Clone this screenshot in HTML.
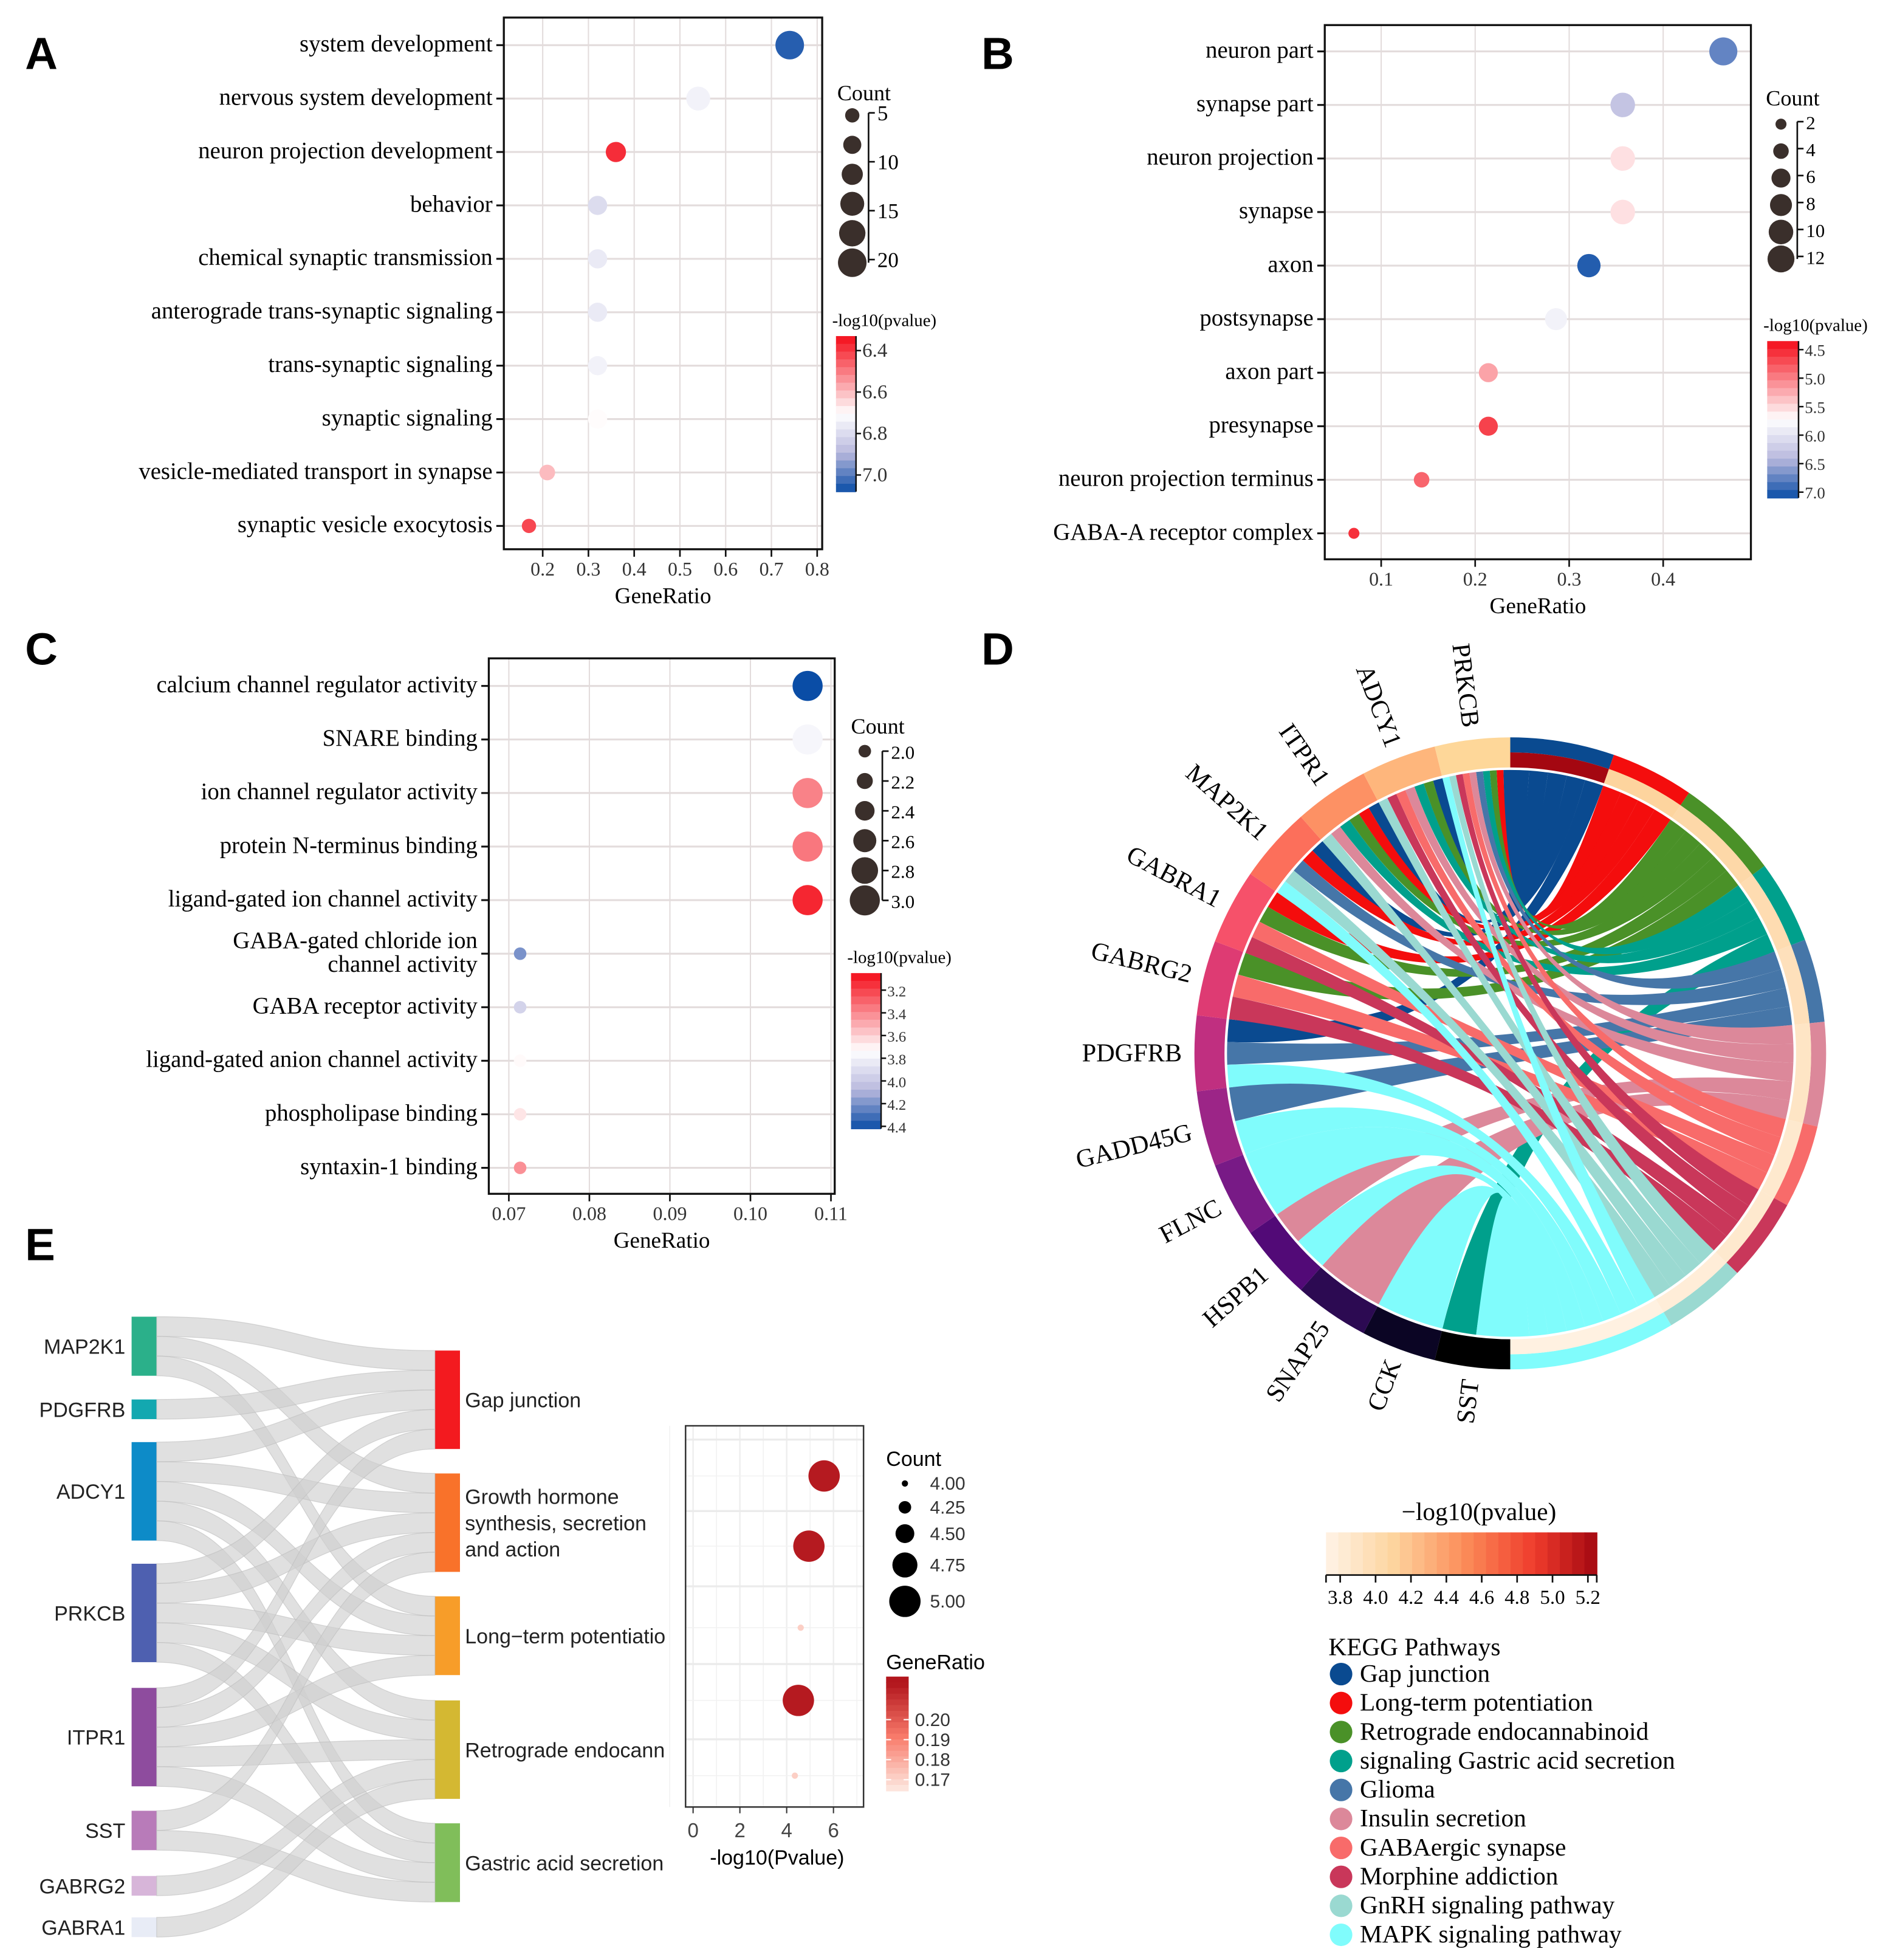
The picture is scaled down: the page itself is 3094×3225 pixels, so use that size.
<!DOCTYPE html>
<html><head><meta charset="utf-8"><style>
html,body{margin:0;padding:0;background:#fff;}
svg{display:block;}
.serif{font-family:"Liberation Serif",serif;}
.sans{font-family:"Liberation Sans",sans-serif;}
</style></head><body>
<svg id="fig" xmlns="http://www.w3.org/2000/svg" width="3094" height="3225" viewBox="0 0 1500 1563" preserveAspectRatio="none">
<g class="sans" font-weight="bold" font-size="36">
<text x="20" y="55">A</text>
<text x="783" y="55">B</text>
<text x="20" y="530">C</text>
<text x="783" y="530">D</text>
<text x="20" y="1005">E</text>
</g>
</svg>
<script>
// ---------- Panel A data ----------
const aTerms=["system development","nervous system development","neuron projection development","behavior","chemical synaptic transmission","anterograde trans-synaptic signaling","trans-synaptic signaling","synaptic signaling","vesicle-mediated transport in synapse","synaptic vesicle exocytosis"];
const aRatio=[0.74,0.54,0.36,0.32,0.32,0.32,0.32,0.32,0.21,0.17];
const aCount=[20,14,10,9,9,9,9,9,6,5];
const aLogP=[7.05,6.74,6.38,6.8,6.76,6.76,6.74,6.7,6.6,6.42];
const aXTicks=[0.2,0.3,0.4,0.5,0.6,0.7,0.8];
const aCountLegend=[5,10,15,20];
const aColorTicks=[6.4,6.6,6.8,7.0];
// ---------- Panel B data ----------
const bTerms=["neuron part","synapse part","neuron projection","synapse","axon","postsynapse","axon part","presynapse","neuron projection terminus","GABA-A receptor complex"];
const bRatio=[0.464,0.357,0.357,0.357,0.321,0.286,0.214,0.214,0.143,0.071];
const bCount=[13,10,10,10,9,8,6,6,4,2];
const bLogP=[6.75,6.3,5.55,5.55,7.0,5.85,5.2,4.65,4.85,4.55];
const bXTicks=[0.1,0.2,0.3,0.4];
const bCountLegend=[2,4,6,8,10,12];
const bColorTicks=[4.5,5.0,5.5,6.0,6.5,7.0];
// ---------- Panel C data ----------
const cTerms=["calcium channel regulator activity","SNARE binding","ion channel regulator activity","protein N-terminus binding","ligand-gated ion channel activity","GABA-gated chloride ion|channel activity","GABA receptor activity","ligand-gated anion channel activity","phospholipase binding","syntaxin-1 binding"];
const cRatio=[0.1071,0.1071,0.1071,0.1071,0.1071,0.0714,0.0714,0.0714,0.0714,0.0714];
const cCount=[3,3,3,3,3,2,2,2,2,2];
const cLogP=[4.42,3.78,3.38,3.35,3.12,4.2,3.95,3.72,3.66,3.42];
const cXTicks=[0.07,0.08,0.09,0.10,0.11];
const cCountLegend=[2.0,2.2,2.4,2.6,2.8,3.0];
const cColorTicks=[3.2,3.4,3.6,3.8,4.0,4.2,4.4];
// ---------- Panel D data ----------
const dGenes=["SST","CCK","SNAP25","HSPB1","FLNC","GADD45G","PDGFRB","GABRG2","GABRA1","MAP2K1","ITPR1","ADCY1","PRKCB"];
const dGeneColors=["#000000","#0b0524","#2c0a52","#520a77","#781a86","#9c2587","#c02f80","#de3b73","#f6516a","#fc6f5b","#fd9164","#feb67c","#fed799"];
const dPathways=["Gap junction","Long-term potentiation","Retrograde endocannabinoid","signaling Gastric acid secretion","Glioma","Insulin secretion","GABAergic synapse","Morphine addiction","GnRH signaling pathway","MAPK signaling pathway"];
const dPathColors=["#0a4a90","#f40d0d","#4a9128","#00a08c","#4676a8","#dc889a","#f86b6a","#c9375a","#9ad9d1","#80fcfc"];
const dPathLogP=[5.25,4.1,4.05,4.0,3.95,3.9,3.85,3.85,3.8,3.75];
const dLinks=[
 ["PRKCB",0],["ADCY1",0],["ITPR1",0],["MAP2K1",0],["PDGFRB",0],
 ["PRKCB",1],["ITPR1",1],["MAP2K1",1],["GABRA1",1],
 ["PRKCB",2],["ADCY1",2],["ITPR1",2],["GABRA1",2],["GABRG2",2],
 ["PRKCB",3],["ADCY1",3],["ITPR1",3],["SST",3],
 ["PRKCB",4],["MAP2K1",4],["PDGFRB",4],["GADD45G",4],
 ["PRKCB",5],["ADCY1",5],["ITPR1",5],["HSPB1",5],["SNAP25",5],
 ["PRKCB",6],["ADCY1",6],["GABRA1",6],["GABRG2",6],
 ["PRKCB",7],["ADCY1",7],["GABRA1",7],["GABRG2",7],
 ["PRKCB",8],["ADCY1",8],["ITPR1",8],["MAP2K1",8],
 ["PRKCB",9],["MAP2K1",9],["PDGFRB",9],["GADD45G",9],["FLNC",9],["HSPB1",9],["CCK",9],["SST",9]
];
const dColorTicks=[3.8,4.0,4.2,4.4,4.6,4.8,5.0,5.2];
// ---------- Panel E data ----------
const eGenes=["MAP2K1","PDGFRB","ADCY1","PRKCB","ITPR1","SST","GABRG2","GABRA1"];
const eGeneColors=["#2bb08a","#13a8b0","#0d8bc8","#4e60b0","#8e4c9e","#b87bb9","#d7b5d9","#e8ecf6"];
const ePathways=["Gap junction","Growth hormone|synthesis, secretion|and action","Long−term potentiatio","Retrograde endocann","Gastric acid secretion"];
const ePathColors=["#f31a1f","#f9722a","#f79d29","#d4b832","#80be5a"];
const eLinks=[[0,0],[0,1],[0,2],[1,0],[2,0],[2,1],[2,2],[2,3],[2,4],[3,0],[3,1],[3,2],[3,3],[3,4],[4,0],[4,1],[4,2],[4,3],[4,4],[5,1],[5,4],[6,3],[7,3]];
const eLogP=[5.6,4.95,4.6,4.5,4.35];
const eCount=[5,5,4,5,4];
const eRatio=[0.217,0.217,0.171,0.217,0.171];
const eXTicks=[0,2,4,6];
const eCountLegend=[4.00,4.25,4.50,4.75,5.00];
const eRatioTicks=[0.20,0.19,0.18,0.17];

const NS="http://www.w3.org/2000/svg";
const fig=document.getElementById('fig');
function mk(tag,attrs,parent,txt){const e=document.createElementNS(NS,tag);for(const k in attrs)e.setAttribute(k,attrs[k]);if(txt!==undefined)e.textContent=txt;(parent||fig).appendChild(e);return e;}
function grp(name,cls){const g=mk('g',cls?{class:cls}:{});


return g;}
function lerp(a,b,t){return a+(b-a)*t;}
function hex(c){return [parseInt(c.slice(1,3),16),parseInt(c.slice(3,5),16),parseInt(c.slice(5,7),16)];}
function mix(c1,c2,t){const a=hex(c1),b=hex(c2);return 'rgb('+a.map((v,i)=>Math.round(lerp(v,b[i],t))).join(',')+')';}
function divColor(v,lo,hi){
 let t=(v-lo)/(hi-lo);t=Math.max(0,Math.min(1,t));
 if(t<0.5)return mix('#f40d1a','#ffffff',t/0.5);
 if(t<0.75)return mix('#ffffff','#b9b9de',(t-0.5)/0.25);
 return mix('#b9b9de','#0a4da6',(t-0.75)/0.25);}

function dotPlot(o){
 const g=grp(o.name,'serif');
 const xs=v=>o.x0+(v-o.v0)/(o.v1-o.v0)*(o.x1-o.x0);
 const ys=i=>o.y0+i*o.dy;
 o.xTicks.forEach(t=>{const l=mk('line',{x1:xs(t),x2:xs(t),y1:o.box[1],y2:o.box[3],stroke:'#e3dcdc','stroke-width':1},g);
 
 });
 o.terms.forEach((t,i)=>{const l=mk('line',{x1:o.box[0],x2:o.box[2],y1:ys(i),y2:ys(i),stroke:'#e3dcdc','stroke-width':1.5},g);
 
 });
 const bx=mk('rect',{x:o.box[0],y:o.box[1],width:o.box[2]-o.box[0],height:o.box[3]-o.box[1],fill:'none',stroke:'#111','stroke-width':1.6},g);
 
 
 o.terms.forEach((t,i)=>{
  mk('line',{x1:o.box[0]-6,x2:o.box[0],y1:ys(i),y2:ys(i),stroke:'#111','stroke-width':1.5},g);
  const parts=t.split('|');
  parts.forEach((p,k)=>{const tx=mk('text',{x:o.box[0]-9,y:ys(i)+5+(k-(parts.length-1)/2)*19,'text-anchor':'end','font-size':18.8},g,p);
  
  });
 });
 o.xTicks.forEach(t=>{mk('line',{x1:xs(t),x2:xs(t),y1:o.box[3],y2:o.box[3]+6,stroke:'#111','stroke-width':1.3},g);
  const tx=mk('text',{x:xs(t),y:o.box[3]+21,'text-anchor':'middle','font-size':15.5,fill:'#333'},g,o.fmt(t));
  
  });
 const xt=mk('text',{x:(o.box[0]+o.box[2])/2,y:o.box[3]+43,'text-anchor':'middle','font-size':18},g,'GeneRatio');
 
 
 o.terms.forEach((t,i)=>{const c=mk('circle',{cx:xs(o.ratio[i]),cy:ys(i),r:o.rad(o.count[i]),fill:divColor(o.logp[i],o.cLo,o.cHi)},g);
 
 });
 const lg=grp(o.name+'-count-legend','serif');
 const ct=mk('text',{x:o.leg.x,y:o.leg.y,'font-size':17.5},lg,'Count');
 
 
 const n=o.legCircles.length;
 o.legCircles.forEach((c,k)=>{mk('circle',{cx:o.leg.cx,cy:o.leg.cy0+k*o.leg.dcy,r:o.rad(c),fill:'#3a2f2b'},lg);});
 const ax=o.leg.ax;
 mk('line',{x1:ax,x2:ax,y1:o.leg.ly(o.countTicks[0]),y2:o.leg.cy0+(n-1)*o.leg.dcy,stroke:'#111','stroke-width':1.3},lg);
 o.countTicks.forEach(t=>{const y=o.leg.ly(t);mk('line',{x1:ax,x2:ax+5,y1:y,y2:y,stroke:'#111','stroke-width':1.3},lg);
  const tx=mk('text',{x:ax+7,y:y+6,'font-size':o.leg.fs},lg,o.leg.fmt(t));
  
  });
 const cg=grp(o.name+'-color-legend','serif');
 const cb=o.cb;
 const ctt=mk('text',{x:cb.x-3,y:cb.y0-8,'font-size':14},cg,'-log10(pvalue)');
 
 
 const N=20;for(let k=0;k<N;k++){const v=lerp(o.cLo,o.cHi,(k+0.5)/N);mk('rect',{x:cb.x,y:cb.y0+k*(cb.y1-cb.y0)/N,width:cb.w,height:(cb.y1-cb.y0)/N+0.5,fill:divColor(v,o.cLo,o.cHi)},cg);}
 mk('line',{x1:cb.x+cb.w,x2:cb.x+cb.w,y1:cb.y0,y2:cb.y1,stroke:'#111','stroke-width':1.2},cg);
 o.colorTicks.forEach(t=>{const y=cb.y0+(t-o.cLo)/(o.cHi-o.cLo)*(cb.y1-cb.y0);mk('line',{x1:cb.x+cb.w,x2:cb.x+cb.w+4,y1:y,y2:y,stroke:'#111','stroke-width':1.2},cg);
  const tx=mk('text',{x:cb.x+cb.w+5,y:y+5,'font-size':cb.fs,fill:'#333'},cg,t.toFixed(1));
  
  });
}

dotPlot({name:'panel-a-dotplot',terms:aTerms,ratio:aRatio,count:aCount,logp:aLogP,xTicks:aXTicks,fmt:t=>t.toFixed(1),
 box:[402,14,656,438],x0:433,x1:652,v0:0.2,v1:0.8,y0:36,dy:42.6,rad:c=>2.55*Math.sqrt(c),cLo:6.33,cHi:7.08,
 legCircles:[5,8,11,14,17,20],countTicks:aCountLegend,
 leg:{x:668,y:80,cx:680,cy0:92,dcy:23.5,ax:693,ly:t=>92+(t-5)/15*(209-92)-2,fs:17,fmt:t=>String(t)},
 cb:{x:667,y0:268,y1:392,w:16,fs:16},colorTicks:aColorTicks});

dotPlot({name:'panel-b-dotplot',terms:bTerms,ratio:bRatio,count:bCount,logp:bLogP,xTicks:bXTicks,fmt:t=>t.toFixed(1),
 box:[1057,20,1397,446],x0:1102,x1:1327,v0:0.1,v1:0.4,y0:41,dy:42.7,rad:c=>3.1*Math.sqrt(c),cLo:4.35,cHi:7.1,
 legCircles:bCountLegend,countTicks:bCountLegend,
 leg:{x:1409,y:84,cx:1421,cy0:99,dcy:21.5,ax:1434,ly:t=>99+(t-2)/2*21.5-2,fs:15,fmt:t=>String(t)},
 cb:{x:1410,y0:272,y1:397,w:25,fs:13},colorTicks:bColorTicks});

dotPlot({name:'panel-c-dotplot',terms:cTerms,ratio:cRatio,count:cCount,logp:cLogP,xTicks:cXTicks,fmt:t=>t.toFixed(2),
 box:[390,525,666,952],x0:406,x1:663,v0:0.07,v1:0.11,y0:547,dy:42.7,rad:c=>5+7*(c-2),cLo:3.05,cHi:4.42,
 legCircles:cCountLegend,countTicks:cCountLegend,
 leg:{x:679,y:585,cx:690,cy0:599,dcy:23.8,ax:704,ly:t=>599+(t-2)/0.2*23.8,fs:15,fmt:t=>t.toFixed(1)},
 cb:{x:679,y0:776,y1:900,w:24,fs:12},colorTicks:cColorTicks});

// ---------- Panel D chord ----------
(function(){
 const g=grp('panel-d-chord-diagram','serif');
 const cx=1205,cy=840,R1=228,R2=252,Rc=226;
 const P=(a,r)=>[cx+r*Math.sin(a),cy-r*Math.cos(a)];
 const deg=Math.PI/180;
 const sector=(a0,a1,r0,r1)=>{const p0=P(a0,r1),p1=P(a1,r1),p2=P(a1,r0),p3=P(a0,r0);const lg=(a1-a0)>Math.PI?1:0;
  return `M${p0}A${r1},${r1} 0 ${lg} 1 ${p1}L${p2}A${r0},${r0} 0 ${lg} 0 ${p3}Z`;};
 const heat=v=>{const t=Math.max(0,Math.min(1,(v-3.7)/1.6));const stops=['#fff5eb','#fdd49e','#fc8d59','#ef3b2c','#99000d'];const s=t*(stops.length-1);const i=Math.min(stops.length-2,Math.floor(s));return mix(stops[i],stops[i+1],s-i);};
 const gSpan=180/dGenes.length;
 const gStart={};dGenes.forEach((n,i)=>gStart[n]=(180+i*gSpan)*deg);
 const pc=dPathways.map((p,i)=>dLinks.filter(l=>l[1]===i).length);
 const tot=pc.reduce((a,b)=>a+b,0);
 const pStart=[];let acc=0;pc.forEach((c,i)=>{pStart.push(acc*Math.PI/tot);acc+=c;});
 const pEnd=pc.map((c,i)=>pStart[i]+c*Math.PI/tot);
 const gc={};dLinks.forEach(l=>gc[l[0]]=(gc[l[0]]||0)+1);
 const gUsed={},pUsed=dPathways.map(()=>0);
 const ribbons=grp('chord-ribbons');
 dLinks.forEach((l,k)=>{
  const gsz=gSpan*deg/gc[l[0]];
  const order=(gUsed[l[0]]||0);gUsed[l[0]]=order+1;
  const g1=gStart[l[0]]+gSpan*deg-order*gsz, g0=g1-gsz;
  const psz=(pEnd[l[1]]-pStart[l[1]])/pc[l[1]];
  const p0=pStart[l[1]]+pUsed[l[1]]*psz, p1=p0+psz;pUsed[l[1]]++;
  const A=P(p0,Rc),B=P(p1,Rc),C=P(g0,Rc),D=P(g1,Rc);
  const d=`M${A}A${Rc},${Rc} 0 0 1 ${B}Q${cx},${cy} ${C}A${Rc},${Rc} 0 0 1 ${D}Q${cx},${cy} ${A}Z`;
  const pa=mk('path',{d:d,fill:dPathColors[l[1]]},ribbons);
  
  
 });
 dGenes.forEach((n,i)=>{const a0=gStart[n],a1=a0+gSpan*deg;
  const s=mk('path',{d:sector(a0,a1,R1,R2),fill:dGeneColors[i]},g);
  
  
  const am=(a0+a1)/2;const p=P(am,262);
  const rot=Math.atan2(Math.cos(am),-Math.sin(am))/deg;
  const t=mk('text',{x:p[0],y:p[1],'text-anchor':'end','dominant-baseline':'central','font-size':20.5,transform:`rotate(${rot} ${p[0]} ${p[1]})`},g,n);
  
  
 });
 dPathways.forEach((n,i)=>{
  const s=mk('path',{d:sector(pStart[i],pEnd[i],240,R2),fill:dPathColors[i]},g);
  
  
  const h=mk('path',{d:sector(pStart[i],pEnd[i],R1,240),fill:heat(dPathLogP[i])},g);
  
  
 });
 const lg=grp('panel-d-pvalue-legend','serif');
 const tt=mk('text',{x:1180,y:1212,'text-anchor':'middle','font-size':20},lg,'−log10(pvalue)');
 
 
 const x0=1058,x1=1274,v0=3.72,v1=5.25;const N=22;
 for(let k=0;k<N;k++){const v=lerp(v0,v1,(k+0.5)/N);mk('rect',{x:x0+k*(x1-x0)/N,y:1222,width:(x1-x0)/N+0.5,height:34,fill:heat(v)},lg);}
 mk('line',{x1:x0,x2:x1,y1:1256,y2:1256,stroke:'#111','stroke-width':1.3},lg);
 mk('line',{x1:x0,x2:x0,y1:1256,y2:1262,stroke:'#111','stroke-width':1.3},lg);
 mk('line',{x1:x1,x2:x1,y1:1256,y2:1262,stroke:'#111','stroke-width':1.3},lg);
 dColorTicks.forEach(t=>{const x=x0+(t-v0)/(v1-v0)*(x1-x0);mk('line',{x1:x,x2:x,y1:1256,y2:1262,stroke:'#111','stroke-width':1.3},lg);
  const tx=mk('text',{x:x,y:1279,'text-anchor':'middle','font-size':16},lg,t.toFixed(1));
  
  });
 const kg=grp('kegg-legend','serif');
 const kt=mk('text',{x:1060,y:1320,'font-size':20},kg,'KEGG Pathways');
 
 
 dPathways.forEach((n,i)=>{const y=1335+i*23.1;
  const c=mk('circle',{cx:1070,cy:y,r:9,fill:dPathColors[i]},kg);
  
  
  const t=mk('text',{x:1085,y:y+6,'font-size':20},kg,n);
  
  });
})();

// ---------- Panel E sankey + dotplot ----------
(function(){
 const g=grp('panel-e-sankey','sans');
 const unit=15.7;
 const gTop=[1050,1116,1150,1247,1346,1444,1496,1529];
 const pTop=[1077,1175,1273,1356,1454];
 const gCnt=eGenes.map((n,i)=>eLinks.filter(l=>l[0]===i).length);
 const pCnt=ePathways.map((n,i)=>eLinks.filter(l=>l[1]===i).length);
 const gU=eGenes.map(()=>0),pU=ePathways.map(()=>0);
 const lx0=125,lx1=347,mx=(lx0+lx1)/2;
 const links=grp('sankey-links');
 eLinks.forEach(l=>{
  const ys=gTop[l[0]]+gU[l[0]]*unit;gU[l[0]]++;
  const yt=pTop[l[1]]+pU[l[1]]*unit;pU[l[1]]++;
  const d=`M${lx0},${ys}C${mx},${ys} ${mx},${yt} ${lx1},${yt}L${lx1},${yt+unit}C${mx},${yt+unit} ${mx},${ys+unit} ${lx0},${ys+unit}Z`;
  const p=mk('path',{d:d,fill:'#cfcfcf','fill-opacity':0.65,stroke:'#bdbdbd','stroke-width':0.6,'stroke-opacity':0.6},links);
  
  
 });
 eGenes.forEach((n,i)=>{const h=gCnt[i]*unit;
  const r=mk('rect',{x:105,y:gTop[i],width:20,height:h,fill:eGeneColors[i]},g);
  
  
  const t=mk('text',{x:100,y:gTop[i]+h/2+6,'text-anchor':'end','font-size':16.5,fill:'#222'},g,n);
  
  });
 ePathways.forEach((n,i)=>{const h=pCnt[i]*unit;
  const r=mk('rect',{x:347,y:pTop[i],width:20,height:h,fill:ePathColors[i]},g);
  
  
  const parts=n.split('|');
  parts.forEach((p,k)=>{const t=mk('text',{x:371,y:pTop[i]+h/2+6+(k-(parts.length-1)/2)*21,'font-size':16.5,fill:'#222'},g,p);
  
  });
 });
 const dg=grp('panel-e-dotplot','sans');
 const bx=[547,1137,689,1441];
 const xs=v=>553+v*(665-553)/6;
 const rowY=[1177,1233,1298,1356,1416];
 for(let v=-1;v<=7;v++){mk('line',{x1:xs(v),x2:xs(v),y1:bx[1],y2:bx[3],stroke:'#eeeeee','stroke-width':v%2===0?1.2:0.6},dg);}
 rowY.forEach((y,i)=>{mk('line',{x1:bx[0],x2:bx[2],y1:y,y2:y,stroke:'#f2f2f2','stroke-width':0.8},dg);});
 [1148,1205,1265,1327,1387].forEach(y=>mk('line',{x1:bx[0],x2:bx[2],y1:y,y2:y,stroke:'#ebebeb','stroke-width':1.6},dg));
 const fr=mk('rect',{x:bx[0],y:bx[1],width:bx[2]-bx[0],height:bx[3]-bx[1],fill:'none',stroke:'#333','stroke-width':1.2},dg);
 
 
 const rad=c=>2.5+(c-4)*10;
 const rcol=r=>{const t=Math.max(0,Math.min(1,(r-0.165)/(0.218-0.165)));
  if(t<0.5)return mix('#fde8e0','#f87a6a',t/0.5);return mix('#f87a6a','#b2161d',(t-0.5)/0.5);};
 ePathways.forEach((p,i)=>{const c=mk('circle',{cx:xs(eLogP[i]),cy:rowY[i],r:rad(eCount[i]),fill:rcol(eRatio[i])},dg);
  
  });
 eXTicks.forEach(t=>{mk('line',{x1:xs(t),x2:xs(t),y1:bx[3],y2:bx[3]+5,stroke:'#333'},dg);
  const tx=mk('text',{x:xs(t),y:bx[3]+24,'text-anchor':'middle','font-size':16,fill:'#444'},dg,String(t));
  
  });
 const xt=mk('text',{x:620,y:1487,'text-anchor':'middle','font-size':16.5},dg,'-log10(Pvalue)');
 
 
 const lt=mk('text',{x:707,y:1169,'font-size':16.5},dg,'Count');
 
 
 const ly=[1183,1202,1223,1248,1277];
 eCountLegend.forEach((c,k)=>{mk('circle',{cx:722,cy:ly[k],r:rad(c),fill:'#000'},dg);
  const t=mk('text',{x:742,y:ly[k]+5,'font-size':14.5,fill:'#333'},dg,c.toFixed(2));
  
  });
 const gt=mk('text',{x:707,y:1331,'font-size':16.5},dg,'GeneRatio');
 
 
 const N=20;for(let k=0;k<N;k++){const r=lerp(0.2215,0.1645,(k+0.5)/N);mk('rect',{x:707,y:1337+k*91/N,width:18,height:91/N+0.5,fill:rcol(r)},dg);}
 eRatioTicks.forEach(t=>{const y=1337+(0.2215-t)/(0.2215-0.1645)*91;
  mk('line',{x1:707,x2:711,y1:y,y2:y,stroke:'#fff'},dg);mk('line',{x1:721,x2:725,y1:y,y2:y,stroke:'#fff'},dg);
  const tx=mk('text',{x:730,y:y+5,'font-size':14.5,fill:'#333'},dg,t.toFixed(2));
  
  });
})();
</script>
</body></html>
